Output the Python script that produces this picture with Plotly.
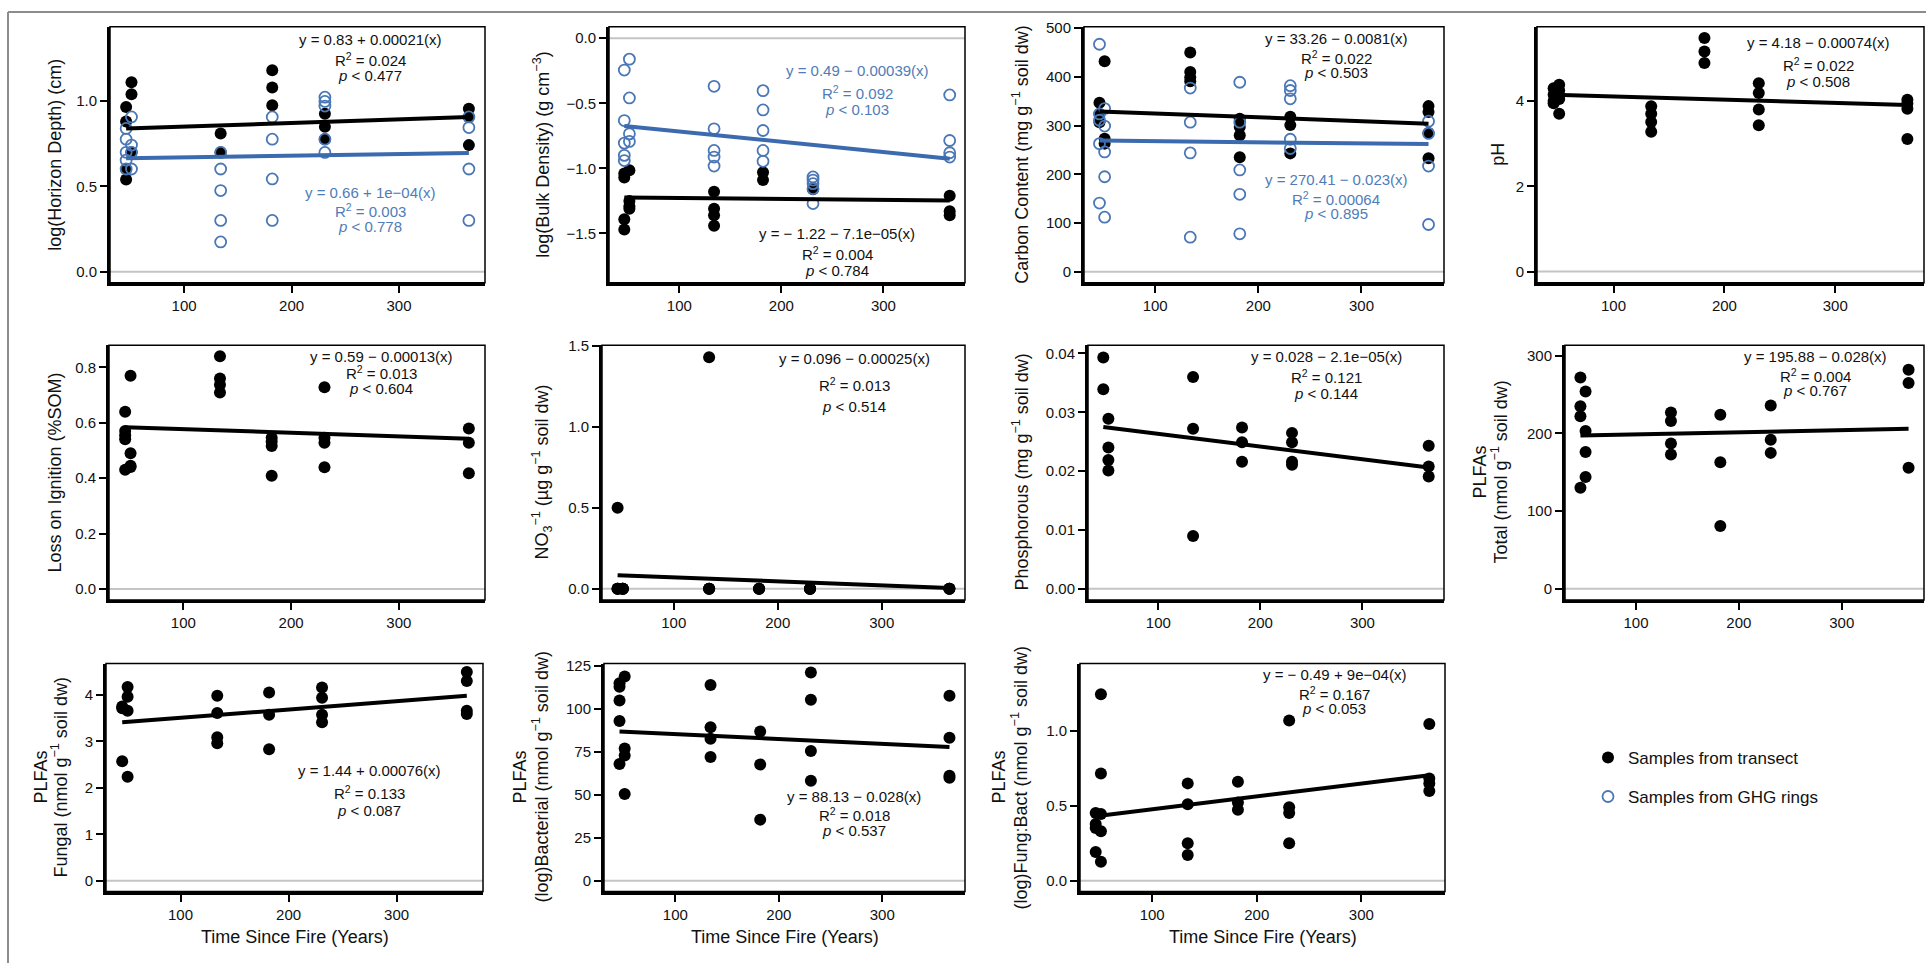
import plotly.graph_objects as go

W, H = 1926, 963

# ---------------- data ----------------
SITE_AGE = [46, 51, 134, 182, 231, 365]

depth_tr = [[0.965, 0.88, 0.60, 0.54], [1.11, 1.04, 0.70], [0.81, 0.70],
            [1.18, 1.08, 0.975], [0.926, 0.85, 0.777], [0.955, 0.907, 0.742]]
depth_ghg = [[0.84, 0.777, 0.70, 0.654, 0.602], [0.907, 0.742, 0.70, 0.602],
             [0.699, 0.602, 0.476, 0.301, 0.175], [0.907, 0.777, 0.544, 0.301],
             [1.023, 0.998, 0.971, 0.777, 0.699], [0.907, 0.845, 0.602, 0.301]]

bd_tr = [[-1.04, -1.07, -1.39, -1.47], [-1.015, -1.25, -1.29, -1.31],
         [-1.18, -1.31, -1.36, -1.44], [-1.03, -1.09], [-1.16], [-1.21, -1.33, -1.36]]
bd_ghg = [[-0.245, -0.633, -0.806, -0.90, -0.94], [-0.161, -0.459, -0.735, -0.793],
          [-0.37, -0.696, -0.862, -0.913, -0.982], [-0.403, -0.551, -0.709, -0.862, -0.946],
          [-1.066, -1.09, -1.117, -1.156, -1.27], [-0.436, -0.786, -0.88, -0.913]]

carbon_tr = [[347, 324, 307], [432, 273, 263], [450, 410, 399, 391],
             [314, 297, 280, 235], [318, 301, 243], [340, 328, 285, 233]]
carbon_ghg = [[467, 324, 311, 263, 141], [335, 299, 246, 195, 112], [377, 307, 244, 71],
              [389, 307, 209, 159, 78], [382, 372, 355, 272, 253], [309, 284, 217, 97]]

ph_tr = [[4.30, 4.15, 4.0, 3.95], [4.38, 4.25, 4.05, 3.70], [3.88, 3.70, 3.51, 3.28],
         [5.48, 5.16, 4.89], [4.42, 4.19, 3.80, 3.43], [4.03, 3.94, 3.82, 3.11]]

loi_tr = [[0.64, 0.57, 0.555, 0.54, 0.43], [0.77, 0.49, 0.445, 0.44], [0.84, 0.76, 0.737, 0.709],
          [0.546, 0.532, 0.516, 0.409], [0.728, 0.546, 0.528, 0.439], [0.579, 0.528, 0.418]]

no3_tr = [[0.5, 0, 0, 0], [0, 0, 0, 0], [1.43, 0, 0, 0], [0, 0, 0], [0, 0, 0, 0], [0, 0, 0]]

phos_tr = [[0.0393, 0.0339], [0.0289, 0.0240, 0.0219, 0.0201], [0.036, 0.0272, 0.009],
           [0.0274, 0.0249, 0.0216], [0.0265, 0.0249, 0.0216, 0.0211], [0.0243, 0.0208, 0.0191]]

total_tr = [[272, 235, 222, 130], [254, 203, 176, 144], [227, 216, 187, 173],
            [224, 163, 81], [236, 192, 175], [282, 265, 156]]

fungal_tr = [[3.75, 3.71, 2.57], [4.17, 3.96, 3.66, 2.24], [3.98, 3.61, 3.09, 2.96],
             [4.05, 3.57, 2.83], [4.16, 3.94, 3.57, 3.41], [4.49, 4.30, 3.66, 3.59]]

bact_tr = [[115, 113, 105, 93, 68], [119, 77, 73, 50.5], [114, 89.4, 82.7, 72.1],
           [86.9, 67.7, 35.6], [121.2, 105.4, 75.6, 58.3], [107.7, 83.3, 61.2, 60]]

fb_tr = [[0.453, 0.38, 0.353, 0.192], [1.247, 0.717, 0.446, 0.331, 0.126],
         [0.651, 0.512, 0.25, 0.172], [0.662, 0.523, 0.475],
         [1.071, 0.492, 0.453, 0.25], [1.049, 0.684, 0.651, 0.6]]

# fitted lines as drawn (intercept, slope)
FIT = {
    "depth_tr": (0.83, 0.00021), "depth_ghg": (0.66, 0.0001),
    "bd_tr": (-1.22, -7.1e-05), "bd_ghg": (-0.638, -0.00079),
    "carbon_tr": (332.6, -0.0784), "carbon_ghg": (270.41, -0.023),
    "ph_tr": (4.18, -0.00074), "loi_tr": (0.59, -0.00013),
    "no3_tr": (0.096, -0.00025), "phos_tr": (0.0285, -2.16e-05),
    "total_tr": (196.2, 0.0267), "fungal_tr": (3.326, 0.00179),
    "bact_tr": (88.13, -0.028), "fb_tr": (0.392, 0.000858),
}

# equation labels
EQ = {
    "depth_tr": ["y = 0.83 + 0.00021(x)", "R<sup>2</sup> = 0.024", "<i>p</i> &lt; 0.477"],
    "depth_ghg": ["y = 0.66 + 1e\u221204(x)", "R<sup>2</sup> = 0.003", "<i>p</i> &lt; 0.778"],
    "bd_ghg": ["y = 0.49 \u2212 0.00039(x)", "R<sup>2</sup> = 0.092", "<i>p</i> &lt; 0.103"],
    "bd_tr": ["y = \u2212 1.22 \u2212 7.1e\u221205(x)", "R<sup>2</sup> = 0.004", "<i>p</i> &lt; 0.784"],
    "carbon_tr": ["y = 33.26 \u2212 0.0081(x)", "R<sup>2</sup> = 0.022", "<i>p</i> &lt; 0.503"],
    "carbon_ghg": ["y = 270.41 \u2212 0.023(x)", "R<sup>2</sup> = 0.00064", "<i>p</i> &lt; 0.895"],
    "ph_tr": ["y = 4.18 \u2212 0.00074(x)", "R<sup>2</sup> = 0.022", "<i>p</i> &lt; 0.508"],
    "loi_tr": ["y = 0.59 \u2212 0.00013(x)", "R<sup>2</sup> = 0.013", "<i>p</i> &lt; 0.604"],
    "no3_tr": ["y = 0.096 \u2212 0.00025(x)", "R<sup>2</sup> = 0.013", "<i>p</i> &lt; 0.514"],
    "phos_tr": ["y = 0.028 \u2212 2.1e\u221205(x)", "R<sup>2</sup> = 0.121", "<i>p</i> &lt; 0.144"],
    "total_tr": ["y = 195.88 \u2212 0.028(x)", "R<sup>2</sup> = 0.004", "<i>p</i> &lt; 0.767"],
    "fungal_tr": ["y = 1.44 + 0.00076(x)", "R<sup>2</sup> = 0.133", "<i>p</i> &lt; 0.087"],
    "bact_tr": ["y = 88.13 \u2212 0.028(x)", "R<sup>2</sup> = 0.018", "<i>p</i> &lt; 0.537"],
    "fb_tr": ["y = \u2212 0.49 + 9e\u221204(x)", "R<sup>2</sup> = 0.167", "<i>p</i> &lt; 0.053"],
}

# y-axis titles (one or two lines each)
Y_TITLES = [
    ["log(Horizon Depth) (cm)"],
    ["log(Bulk Density) (g cm<sup>\u22123</sup>)"],
    ["Carbon Content (mg g<sup>\u22121</sup> soil dw)"],
    ["pH"],
    ["Loss on Ignition (%SOM)"],
    ["NO<sub>3</sub><sup>\u22121</sup> (\u00b5g g<sup>\u22121</sup> soil dw)"],
    ["Phosphorous (mg g<sup>\u22121</sup> soil dw)"],
    ["PLFAs", "Total (nmol g<sup>\u22121</sup> soil dw)"],
    ["PLFAs", "Fungal (nmol g<sup>\u22121</sup> soil dw)"],
    ["PLFAs", "(log)Bacterial (nmol g<sup>\u22121</sup> soil dw)"],
    ["PLFAs", "(log)Fung:Bact (nmol g<sup>\u22121</sup> soil dw)"],
]
X_TITLE = "Time Since Fire (Years)"
X_TICKS = [100, 200, 300]
LEGEND_NAMES = ["Samples from transect", "Samples from GHG rings"]

# ---------------- layout / style ----------------
BLACK = "#000000"
TXT = "#111111"
BLUE_PT = "#4a77b5"
BLUE_LN = "#3b6aae"
BLUE_TX = "#4f7cb9"
FONT = "Liberation Sans, Arial, Helvetica, sans-serif"
XR = (31, 380)

PANELS = [
    dict(tr="depth_tr", ghg="depth_ghg", box=(110, 19, 485, 277), yr=(-0.064, 1.435),
         yt=[0, 0.5, 1.0], yf=".1f", tx=[55], eq_tr=(370, [32, 52, 68]), eq_ghg=(370, [186, 204, 220])),
    dict(tr="bd_tr", ghg="bd_ghg", box=(609, 19, 965, 277), yr=(-1.878, 0.087),
         yt=[-1.5, -1.0, -0.5, 0.0], yf=".1f", tx=[542], eq_tr=(837, [227, 248, 265]), eq_ghg=(857, [63, 85, 102])),
    dict(tr="carbon_tr", ghg="carbon_ghg", box=(1084, 19, 1444, 277), yr=(-22.4, 502.7),
         yt=[0, 100, 200, 300, 400, 500], yf="d", tx=[1021], eq_tr=(1336, [31, 50, 65]), eq_ghg=(1336, [173, 192, 207])),
    dict(tr="ph_tr", ghg=None, box=(1537, 19, 1924, 277), yr=(-0.26, 5.74),
         yt=[0, 2, 4], yf="d", tx=[1498], eq_tr=(1818, [35, 57, 74])),
    dict(tr="loi_tr", ghg=None, box=(109, 340, 485, 597), yr=(-0.04, 0.88),
         yt=[0, 0.2, 0.4, 0.6, 0.8], yf=".1f", tx=[55], eq_tr=(381, [351, 368, 384])),
    dict(tr="no3_tr", ghg=None, box=(602, 340, 965, 597), yr=(-0.069, 1.504),
         yt=[0, 0.5, 1.0, 1.5], yf=".1f", tx=[542], eq_tr=(854, [353, 380, 402])),
    dict(tr="phos_tr", ghg=None, box=(1088, 340, 1444, 597), yr=(-0.0019, 0.0414),
         yt=[0, 0.01, 0.02, 0.03, 0.04], yf=".2f", tx=[1021], eq_tr=(1326, [351, 372, 389])),
    dict(tr="total_tr", ghg=None, box=(1565, 340, 1924, 597), yr=(-14.4, 313.6),
         yt=[0, 100, 200, 300], yf="d", tx=[1480, 1500], eq_tr=(1815, [351, 371, 386])),
    dict(tr="fungal_tr", ghg=None, box=(106, 661, 483, 891), yr=(-0.234, 4.675),
         yt=[0, 1, 2, 3, 4], yf="d", tx=[41, 60], eq_tr=(369, [769, 791, 809])),
    dict(tr="bact_tr", ghg=None, box=(604, 661, 965, 891), yr=(-6.3, 126.5),
         yt=[0, 25, 50, 75, 100, 125], yf="d", tx=[520, 541], eq_tr=(854, [795, 813, 829])),
    dict(tr="fb_tr", ghg=None, box=(1080, 661, 1445, 891), yr=(-0.073, 1.453),
         yt=[0, 0.5, 1.0], yf=".1f", tx=[999, 1020], eq_tr=(1334, [672, 691, 706])),
]
DATA = dict(depth_tr=depth_tr, depth_ghg=depth_ghg, bd_tr=bd_tr, bd_ghg=bd_ghg,
            carbon_tr=carbon_tr, carbon_ghg=carbon_ghg, ph_tr=ph_tr, loi_tr=loi_tr,
            no3_tr=no3_tr, phos_tr=phos_tr, total_tr=total_tr, fungal_tr=fungal_tr,
            bact_tr=bact_tr, fb_tr=fb_tr)


def expand(groups):
    xs, ys = [], []
    for age, vals in zip(SITE_AGE, groups):
        xs += [age] * len(vals)
        ys += list(vals)
    return xs, ys


def px(x):
    return x / W


def py(y):
    return 1 - y / H


fig = go.Figure()
layout = dict(width=W, height=H, margin=dict(l=0, r=0, t=0, b=0),
              paper_bgcolor="white", plot_bgcolor="white",
              font=dict(family=FONT, color=TXT, size=15),
              showlegend=True)
shapes, annos = [], []

for i, p in enumerate(PANELS, start=1):
    xa, ya = ("x" if i == 1 else f"x{i}"), ("y" if i == 1 else f"y{i}")
    l, t, r, b = p["box"]
    layout[f"xaxis{'' if i == 1 else i}"] = dict(
        domain=[px(l), px(r)], range=list(XR), anchor=ya, tickvals=X_TICKS,
        showline=True, linewidth=3, linecolor=BLACK, ticks="outside", ticklen=7,
        tickwidth=2, tickcolor=BLACK, showgrid=False, zeroline=False,
        tickfont=dict(size=15, family=FONT, color=TXT))
    layout[f"yaxis{'' if i == 1 else i}"] = dict(
        domain=[py(b), py(t)], range=list(p["yr"]), anchor=xa, tickvals=p["yt"],
        tickformat=p["yf"], showline=True, linewidth=3, linecolor=BLACK,
        ticks="outside", ticklen=7, tickwidth=2, tickcolor=BLACK,
        showgrid=False, zeroline=False,
        tickfont=dict(size=15, family=FONT, color=TXT))
    # thin frame box
    shapes.append(dict(type="rect", xref=f"{xa} domain", yref=f"{ya} domain",
                       x0=0, x1=1, y0=0, y1=1, line=dict(color=BLACK, width=1.5)))
    # grey zero reference line
    shapes.append(dict(type="line", xref=f"{xa} domain", yref=ya, x0=0, x1=1, y0=0, y1=0,
                       line=dict(color="#c4c4c4", width=2), layer="below"))

    series = [(p["tr"], "tr")]
    if p["ghg"]:
        series.append((p["ghg"], "ghg"))
    # points
    for key, kind in series:
        xs, ys = expand(DATA[key])
        if kind == "tr":
            mk = dict(symbol="circle", size=12, color=BLACK)
        else:
            mk = dict(symbol="circle-open", size=11, color=BLUE_PT, line=dict(width=1.8, color=BLUE_PT))
        fig.add_trace(go.Scatter(
            x=xs, y=ys, mode="markers", marker=mk, xaxis=xa, yaxis=ya,
            name=LEGEND_NAMES[0] if kind == "tr" else LEGEND_NAMES[1],
            legendgroup=kind, showlegend=(i == 1), hoverinfo="x+y"))
    # fitted lines
    for key, kind in series:
        xs, _ = expand(DATA[key])
        a, s = FIT[key]
        x0, x1 = min(xs), max(xs)
        fig.add_trace(go.Scatter(
            x=[x0, x1], y=[a + s * x0, a + s * x1], mode="lines",
            line=dict(color=BLACK if kind == "tr" else BLUE_LN, width=4),
            xaxis=xa, yaxis=ya, showlegend=False, hoverinfo="skip"))
    # equation text
    for key, kind in series:
        cx, ys_ = p["eq_tr"] if kind == "tr" else p["eq_ghg"]
        col = TXT if kind == "tr" else BLUE_TX
        for txt, yy in zip(EQ[key], ys_):
            annos.append(dict(text=txt, x=px(cx), y=py(yy), xref="paper", yref="paper",
                              xanchor="center", yanchor="middle", showarrow=False,
                              font=dict(size=15, family=FONT, color=col)))
    # y title (one annotation per line)
    for txt, xx in zip(Y_TITLES[i - 1], p["tx"]):
        annos.append(dict(text=txt, x=px(xx), y=py((t + b) / 2), xref="paper",
                          yref="paper", xanchor="center", yanchor="middle", textangle=-90,
                          showarrow=False, font=dict(size=18, family=FONT, color=TXT)))
    # x title (bottom row)
    if i >= 9:
        annos.append(dict(text=X_TITLE, x=px((l + r) / 2), y=py(937), xref="paper", yref="paper",
                          xanchor="center", yanchor="middle", showarrow=False,
                          font=dict(size=18, family=FONT, color=TXT)))

# outer grey frame (top and left edges visible)
shapes.append(dict(type="line", xref="paper", yref="paper", x0=px(8), x1=1, y0=py(4), y1=py(4),
                   line=dict(color="#8c8c8c", width=2)))
shapes.append(dict(type="line", xref="paper", yref="paper", x0=px(8), x1=px(8), y0=py(4), y1=0,
                   line=dict(color="#8c8c8c", width=2)))

layout["shapes"] = shapes
layout["annotations"] = annos
layout["legend"] = dict(x=px(1588), y=py(738), xanchor="left", yanchor="top",
                        font=dict(size=17, family=FONT, color=TXT),
                        traceorder="grouped", tracegroupgap=14, bgcolor="rgba(0,0,0,0)",
                        itemsizing="trace")
fig.update_layout(**layout)

fig.write_html("out.html", config={"displayModeBar": False},
               post_script="document.body.style.margin='0';document.body.style.overflow='hidden';")
